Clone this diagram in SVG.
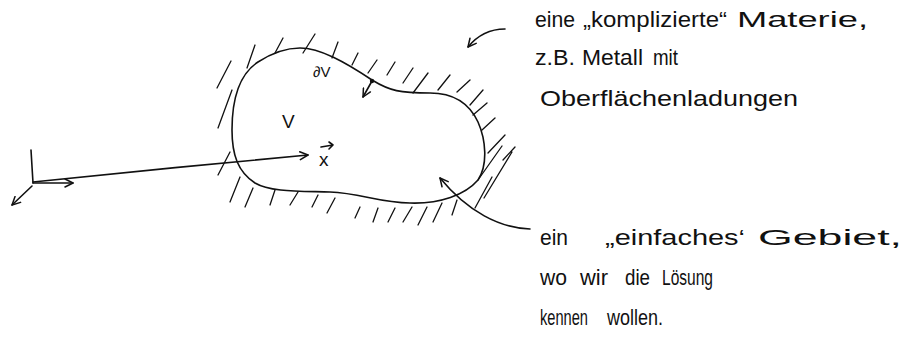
<svg xmlns="http://www.w3.org/2000/svg" width="919" height="343" viewBox="0 0 919 343">
<defs>
<style>
.ink{fill:none;stroke:#111;stroke-width:1.6;stroke-linecap:round;stroke-linejoin:round}
.hatch{fill:none;stroke:#111;stroke-width:1.3;stroke-linecap:round}
.txt{font-family:"Liberation Sans",Arial,sans-serif;font-size:22px;fill:#111}
.sym{font-family:"Liberation Sans",Arial,sans-serif;fill:#111}
</style>
<marker id="ah" viewBox="0 0 10 10" refX="9" refY="5" markerWidth="10" markerHeight="10" markerUnits="userSpaceOnUse" orient="auto">
<path d="M1,1 L9,5 L1,9" fill="none" stroke="#111" stroke-width="1.5" stroke-linecap="round" stroke-linejoin="round"/>
</marker>
</defs>
<rect width="919" height="343" fill="#fff"/>

<g id="region">
<path class="ink" d="M300,48 C320,48 345,62 372,80 C390,91 400,93 430,93 C455,93 470,105 478,122 C486,140 488,165 478,180 C465,195 440,204 410,203 C380,203 360,193 330,192 C300,191 270,192 255,183 C238,172 232,155 232,130 C232,100 238,75 258,62 C272,53 285,48 300,48 Z"/>
<g id="hatching">
<path class="hatch" d="M217,88 L231,61 M218,128 L232,90 M247,68 L255,45 M275,53 L283,38 M303,53 L315,34 M332,58 L338,42 M352,65 L358,53 M368,73 L377,60 M387,75 L395,62 M403,83 L413,68 M413,93 L428,73 M438,90 L450,75 M457,92 L470,80 M470,105 L483,90 M473,115 L487,103 M482,130 L495,118 M488,153 L505,135 M503,160 L515,147 M478,180 L502,146 M475,208 L492,177 M484,198 L512,152"/>
<path class="hatch" d="M218,175 L230,152 M230,202 L240,177 M245,207 L253,188 M270,205 L275,190 M290,205 L298,192 M312,207 L318,195 M327,213 L335,198 M355,218 L360,207 M373,222 L378,208 M388,222 L395,208 M403,222 L412,207 M418,225 L427,207 M433,222 L442,203 M452,215 L457,200"/>
</g>
<text class="sym" x="282" y="128" font-size="19">V</text>
<text class="sym" x="313" y="77" font-size="15">∂V</text>
</g>

<g id="position-label">
<text class="sym" x="319" y="166" font-size="19">x</text>
<path class="ink" d="M321,147 L333,145 M329,142 L333,145 L329,149" stroke-width="1.3"/>
</g>

<g id="connectors">
<path id="axis-y" class="ink" d="M31,150 L33,183"/>
<path id="axis-x" class="ink" d="M33,183 L73,183" marker-end="url(#ah)"/>
<path id="axis-z" class="ink" d="M32,186 L12,205" marker-end="url(#ah)"/>
<path id="position-vector" class="ink" d="M33,182 C120,173 220,163 308,155" marker-end="url(#ah)"/>
<circle cx="372" cy="81" r="2.2" fill="#111"/>
<path id="normal" class="ink" d="M372,81 L363,97" marker-end="url(#ah)"/>
<path id="pointer-matter" class="ink" d="M505,29 C490,29 477,36 468,47" marker-end="url(#ah)"/>
<path id="pointer-domain" class="ink" d="M530,229 C500,228 468,212 440,178" marker-end="url(#ah)"/>
</g>

<g id="label-matter">
<text class="txt" y="27"><tspan x="535" textLength="40" lengthAdjust="spacingAndGlyphs">eine</tspan><tspan x="583" textLength="144" lengthAdjust="spacingAndGlyphs">„komplizierte“</tspan><tspan x="737" textLength="131" lengthAdjust="spacingAndGlyphs">Materie,</tspan></text>
<text class="txt" y="65"><tspan x="535" textLength="40" lengthAdjust="spacingAndGlyphs">z.B.</tspan><tspan x="582" textLength="61" lengthAdjust="spacingAndGlyphs">Metall</tspan><tspan x="653" textLength="25" lengthAdjust="spacingAndGlyphs">mit</tspan></text>
<text class="txt" y="106" x="540" textLength="258" lengthAdjust="spacingAndGlyphs">Oberflächenladungen</text>
</g>

<g id="label-domain">
<text class="txt" y="245"><tspan x="540" textLength="28" lengthAdjust="spacingAndGlyphs">ein</tspan><tspan x="605" textLength="140" lengthAdjust="spacingAndGlyphs">„einfaches‘</tspan><tspan x="758" textLength="144" lengthAdjust="spacingAndGlyphs">Gebiet,</tspan></text>
<text class="txt" y="285"><tspan x="540" textLength="27" lengthAdjust="spacingAndGlyphs">wo</tspan><tspan x="580" textLength="28" lengthAdjust="spacingAndGlyphs">wir</tspan><tspan x="625" textLength="25" lengthAdjust="spacingAndGlyphs">die</tspan><tspan x="662" textLength="51" lengthAdjust="spacingAndGlyphs">Lösung</tspan></text>
<text class="txt" y="325"><tspan x="540" textLength="48" lengthAdjust="spacingAndGlyphs">kennen</tspan><tspan x="607" textLength="56" lengthAdjust="spacingAndGlyphs">wollen.</tspan></text>
</g>
</svg>
